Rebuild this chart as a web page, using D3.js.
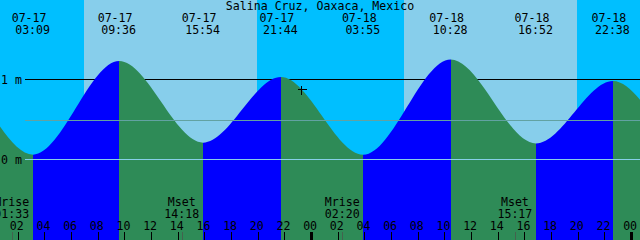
<!DOCTYPE html>
<html>
<head>
<meta charset="utf-8">
<script src="https://cdn.jsdelivr.net/npm/d3@7"></script>
<style>
  html, body { margin: 0; padding: 0; background: #fff; }
  svg { display: block; }
  text { font-family: "DejaVu Sans Mono", monospace; font-size: 11.6px; fill: #000; }
</style>
</head>
<body>
<div id="chart"></div>
<script>
// tide extremes (the first two and last two are just outside the visible window)
const tideTimes = ["07-16 14:40", "07-16 20:50", "07-17 03:09", "07-17 09:36", "07-17 15:54", "07-17 21:44",
                   "07-18 03:55", "07-18 10:28", "07-18 16:52", "07-18 22:38", "07-19 04:50", "07-19 11:20"];
const tideLevels = [0.20, 1.09, 0.06, 1.23, 0.21, 1.03, 0.06, 1.25, 0.20, 0.98, 0.05, 1.26];

const sunTimes = ["07-17 07:00", "07-17 19:57", "07-18 07:00", "07-18 19:57"];

const moonNames = ["Mrise", "Mset", "Mrise", "Mset"];
const moonTimes = ["07-17 01:33", "07-17 14:18", "07-18 02:20", "07-18 15:17"];

const levelTicks = [0, 1];
const meanLevel = 0.4875;
const markTime = "07-17 23:14", markLevel = 0.88;

const title = "Salina Cruz, Oaxaca, Mexico";

const width = 640, height = 240;
const parse = d3.timeParse("%m-%d %H:%M");

const x = d3.scaleTime()
  .domain([parse("07-17 00:40"), parse("07-19 00:40")])
  .range([0, width]);
const y = d3.scaleLinear().domain([0, 1]).range([159.5, 79.5]);

const tides = tideTimes.map((t, i) => ({ t: parse(t), v: tideLevels[i] }));

const svg = d3.select("#chart").append("svg")
  .attr("width", width).attr("height", height);

// night / day background
const sun = sunTimes.map(parse);
const bands = [[x.domain()[0], sun[0], "#00BFFF"], [sun[0], sun[1], "#87CEEB"],
               [sun[1], sun[2], "#00BFFF"], [sun[2], sun[3], "#87CEEB"],
               [sun[3], x.domain()[1], "#00BFFF"]];
svg.selectAll("rect.sky").data(bands).enter().append("rect")
  .attr("class", "sky")
  .attr("x", d => Math.round(x(d[0])))
  .attr("width", d => Math.round(x(d[1])) - Math.round(x(d[0])))
  .attr("y", 0).attr("height", height)
  .attr("fill", d => d[2])
  .attr("shape-rendering", "crispEdges");

// 1 m line sits under the water
svg.append("line")
  .attr("x1", 25).attr("x2", width)
  .attr("y1", y(1)).attr("y2", y(1))
  .attr("stroke", "#000").attr("shape-rendering", "crispEdges");

// water, clipped to the tide curve
const area = d3.area()
  .x(d => x(d.t)).y0(height).y1(d => y(d.v))
  .curve(d3.curveMonotoneX);

svg.append("clipPath").attr("id", "water")
  .append("path").attr("d", area(tides));

const segs = d3.pairs(tides);
svg.append("g").attr("clip-path", "url(#water)")
  .selectAll("rect").data(segs).enter().append("rect")
  .attr("x", d => Math.round(x(d[0].t)))
  .attr("width", d => Math.round(x(d[1].t)) - Math.round(x(d[0].t)))
  .attr("y", 0).attr("height", height)
  .attr("fill", d => d[1].v > d[0].v ? "#0000FF" : "#2E8B57")
  .attr("shape-rendering", "crispEdges");

// mean level and datum lines on top
svg.append("line")
  .attr("x1", 25).attr("x2", width)
  .attr("y1", y(meanLevel)).attr("y2", y(meanLevel))
  .attr("stroke", "#62a2a2").attr("shape-rendering", "crispEdges");
svg.append("line")
  .attr("x1", 25).attr("x2", width)
  .attr("y1", y(0)).attr("y2", y(0))
  .attr("stroke", "#87cfe8").attr("shape-rendering", "crispEdges");

svg.selectAll("text.lvl").data(levelTicks).enter().append("text")
  .attr("class", "lvl")
  .attr("x", 1).attr("y", d => y(d) + 4.3)
  .text(d => d + " m");

// title
svg.append("text")
  .attr("x", width / 2).attr("y", 10)
  .attr("text-anchor", "middle")
  .text(title);

// tide event labels
const shown = tides.filter(d => d.t >= x.domain()[0] && d.t <= x.domain()[1]);
const fmtDate = d3.timeFormat("%m-%d"), fmtTime = d3.timeFormat("%H:%M");
const ev = svg.selectAll("g.ev").data(shown).enter().append("g").attr("class", "ev");
ev.append("text")
  .attr("x", d => x(d.t) - 4).attr("y", 22)
  .attr("text-anchor", "middle")
  .text(d => fmtDate(d.t));
ev.append("text")
  .attr("x", d => x(d.t) - 0.5).attr("y", 33.5)
  .attr("text-anchor", "middle")
  .text(d => fmtTime(d.t));

// moon events
const moon = moonTimes.map((t, i) => ({ t: parse(t), name: moonNames[i] }));
const mg = svg.selectAll("g.moon").data(moon).enter().append("g").attr("class", "moon");
mg.append("text")
  .attr("x", d => x(d.t)).attr("y", 206)
  .attr("text-anchor", "middle")
  .text(d => d.name);
mg.append("text")
  .attr("x", d => x(d.t)).attr("y", 218)
  .attr("text-anchor", "middle")
  .text(d => fmtTime(d.t));
mg.append("line")
  .attr("x1", d => Math.round(x(d.t)) + 0.5).attr("x2", d => Math.round(x(d.t)) + 0.5)
  .attr("y1", 232).attr("y2", height)
  .attr("stroke", "#44624e").attr("shape-rendering", "crispEdges");

// hour ticks
const hours = d3.timeHour.every(2).range(x.domain()[0], x.domain()[1]);
const fmtHour = d3.timeFormat("%H");
svg.selectAll("text.hr").data(hours).enter().append("text")
  .attr("class", "hr")
  .attr("x", d => x(d) - 1).attr("y", 229.5)
  .attr("text-anchor", "middle")
  .text(d => fmtHour(d));
svg.selectAll("line.hr").data(hours).enter().append("line")
  .attr("class", "hr")
  .attr("x1", d => Math.round(x(d)) + 0.5).attr("x2", d => Math.round(x(d)) + 0.5)
  .attr("y1", 232).attr("y2", height)
  .attr("stroke", "#000")
  .attr("stroke-width", d => d.getHours() === 0 ? 3 : 1)
  .attr("shape-rendering", "crispEdges");

// current-time mark
const mx = Math.round(x(parse(markTime))) + 0.5, my = Math.round(y(markLevel)) + 0.5;
svg.append("path")
  .attr("d", `M${mx - 4},${my}H${mx + 5}M${mx},${my - 4}V${my + 5}`)
  .attr("stroke", "#000").attr("fill", "none")
  .attr("shape-rendering", "crispEdges");
</script>
</body>
</html>
